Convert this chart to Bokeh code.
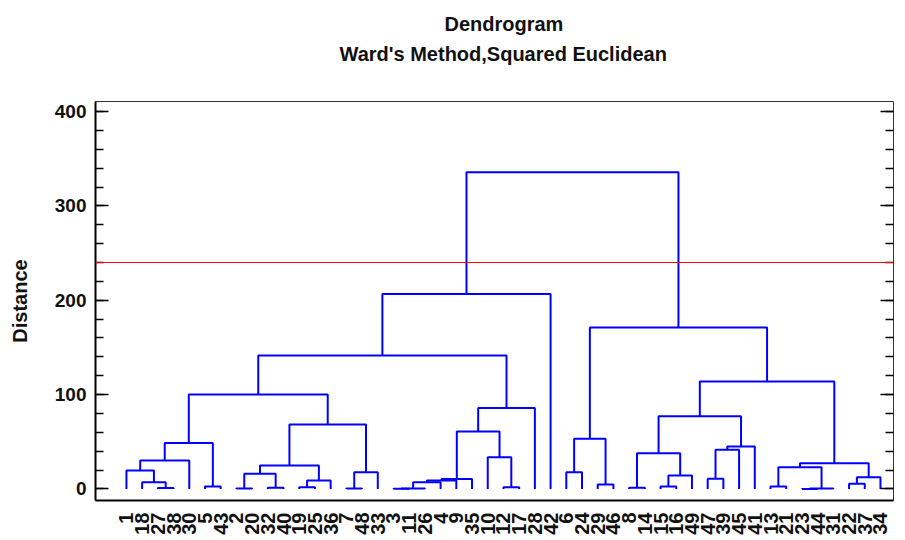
import math
from bokeh.plotting import figure
from bokeh.models import (Range1d, LinearAxis, FixedTicker, SingleIntervalTicker, Span, Title,
                          CustomLabelingPolicy)
from bokeh.embed import file_html
from bokeh.resources import INLINE

# leaf labels in display order (left to right)
leaf_labels = ["1", "18", "27", "38", "30", "5", "43", "2", "20", "32", "40", "19", "25", "36", "7", "48", "33",
               "3", "11", "26", "4", "9", "35", "10", "12", "17", "28",
               "42",
               "6", "24", "29", "46", "8", "14",
               "15", "16", "49", "47", "39", "45", "41",
               "13", "21", "23", "44", "31", "22", "37", "34"]

# merges: node ids 0..48 are leaves (display order), 49.. are merges in this order
merge_left = [2, 1, 0, 51, 5, 52, 7, 9, 55, 11, 58, 57, 14, 61, 60, 54,
              17, 65, 66, 67, 68, 24, 23, 69, 72, 64, 74,
              28, 30, 76, 32, 34, 80, 79, 37, 83, 84, 82, 41, 43, 88, 87, 46, 91, 90, 86, 78, 75]
merge_right = [3, 49, 50, 4, 6, 53, 8, 10, 56, 12, 13, 59, 15, 16, 62, 63,
               18, 19, 20, 21, 22, 25, 70, 71, 26, 73, 27,
               29, 31, 77, 33, 35, 36, 81, 38, 39, 40, 85, 42, 44, 45, 89, 47, 48, 92, 93, 94, 95]
merge_height = [1.0, 7.2, 19.6, 30.2, 2.6, 48.6, 0.4, 1.2, 16.1, 1.9, 9.0, 24.9, 0.4, 17.8, 68.4, 100.2,
                0.2, 0.6, 7.2, 9.0, 10.6, 1.9, 33.7, 61.0, 85.7, 141.5, 206.5,
                17.8, 4.8, 53.2, 1.2, 2.6, 14.3, 38.0, 10.8, 41.5, 45.0, 77.0, 2.6, 0.1, 0.4, 23.1,
                5.5, 12.5, 27.4, 114.0, 171.0, 335.5]

cut_height = 240
y_ticks_interval = 100

n = len(leaf_labels)
xpos = {i: float(i) for i in range(n)}
ypos = {i: 0.0 for i in range(n)}
xs, ys = [], []
for k, (a, b, h) in enumerate(zip(merge_left, merge_right, merge_height)):
    node = n + k
    xa, ya = xpos[a], ypos[a]
    xb, yb = xpos[b], ypos[b]
    xs.append([xa, xa, xb, xb])
    ys.append([ya, h, h, yb])
    xpos[node] = (xa + xb) / 2.0
    ypos[node] = h

FONT = "Liberation Sans"

p = figure(width=905, height=540, x_range=Range1d(-1.97, 48.83), y_range=Range1d(-12.2, 410.6),
           output_backend="svg", toolbar_location=None, x_axis_location=None, y_axis_location=None,
           min_border_left=95, min_border_right=12, min_border_top=101, min_border_bottom=40,
           background_fill_color="white", border_fill_color="white")
p.grid.visible = False
p.outline_line_color = "#333333"
p.outline_line_width = 1

p.multi_line(xs, ys, line_color="#0000ff", line_width=2)

p.add_layout(Span(location=cut_height, dimension="width", line_color="#ff0000", line_width=1))

left = LinearAxis(ticker=SingleIntervalTicker(interval=y_ticks_interval, num_minor_ticks=5), axis_label="Distance")
left.major_tick_in = 13
left.major_tick_out = 0
left.minor_tick_in = 8
left.minor_tick_out = 0
left.axis_line_width = 2
left.major_tick_line_width = 1.5
left.minor_tick_line_width = 1.5
left.major_label_standoff = 9
left.major_label_text_font = FONT
left.major_label_text_font_style = "bold"
left.major_label_text_font_size = "19px"
left.major_label_text_color = "#111111"
left.axis_label_text_font = FONT
left.axis_label_text_font_style = "bold"
left.axis_label_text_font_size = "20px"
left.axis_label_text_color = "#111111"
left.axis_label_standoff = 21
p.add_layout(left, "left")

# right-hand tick marks only (no labels drawn)
right = LinearAxis(ticker=SingleIntervalTicker(interval=y_ticks_interval, num_minor_ticks=5),
                   major_label_policy=CustomLabelingPolicy(code="return new Set()"))
right.major_tick_in = 13
right.major_tick_out = 0
right.minor_tick_in = 8
right.minor_tick_out = 0
right.axis_line_color = None
right.major_label_text_font_size = "0px"
right.major_label_standoff = 0
right.major_tick_line_width = 1.5
right.minor_tick_line_width = 1.5
p.add_layout(right, "right")

bottom = LinearAxis(ticker=FixedTicker(ticks=list(range(n))),
                    major_label_overrides={i: lab for i, lab in enumerate(leaf_labels)})
bottom.major_tick_line_color = None
bottom.minor_tick_line_color = None
bottom.axis_line_width = 2
bottom.major_label_orientation = math.pi / 2
bottom.major_label_standoff = 6
bottom.major_label_text_font = FONT
bottom.major_label_text_font_style = "bold"
bottom.major_label_text_font_size = "20px"
bottom.major_label_text_color = "#111111"
p.add_layout(bottom, "below")

# spacer, subtitle, title (stacked upward from the frame)
p.add_layout(Title(text=" ", text_font_size="20px", standoff=10), "above")
p.add_layout(Title(text="Ward's Method,Squared Euclidean", align="left", offset=244, text_font=FONT,
                   text_font_style="bold", text_font_size="20px", text_color="#111111", standoff=6), "above")
p.add_layout(Title(text="Dendrogram", align="left", offset=349, text_font=FONT,
                   text_font_style="bold", text_font_size="20px", text_color="#111111", standoff=6), "above")

open("out.html", "w").write(file_html(p, INLINE))
